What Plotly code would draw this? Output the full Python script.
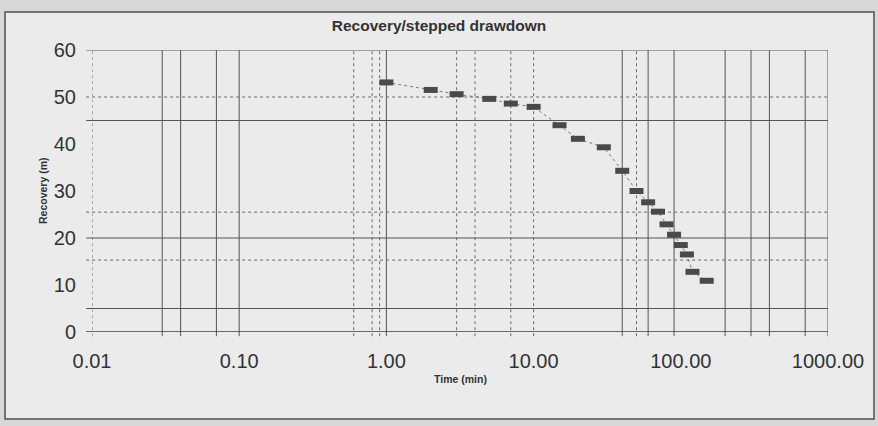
import plotly.graph_objects as go

# ---- data ----
time_min = [1, 2, 3, 5, 7, 10, 15, 20, 30, 40, 50, 60, 70, 80, 90, 100, 110, 120, 150]
recovery_m = [53.1, 51.5, 50.6, 49.6, 48.6, 47.9, 44.0, 41.1, 39.3, 34.3, 30.0, 27.6,
              25.6, 22.9, 20.7, 18.5, 16.5, 12.8, 10.9]

x_tick_vals = [0.01, 0.1, 1, 10, 100, 1000]
x_tick_text = ["0.01", "0.10", "1.00", "10.00", "100.00", "1000.00"]
y_tick_vals = [0, 10, 20, 30, 40, 50, 60]

# gridlines as they appear on the scanned chart
v_grid_solid = [0.03, 0.04, 0.07, 0.1, 1, 40, 60, 90, 200, 300, 400, 700, 1000]
v_grid_dashed = [0.01, 0.6, 0.8, 0.9, 3, 4, 7, 10, 50]
h_grid_solid = [0, 5, 20, 45, 60]
h_grid_dashed = [15.3, 25.5, 50]

FONT = "Liberation Sans, Arial, sans-serif"
W, H = 878, 426
L, R, T, B = 92, 50, 50, 94
PW, PH = W - L - R, H - T - B


def px_x(p):
    return (p - L) / PW


def px_y(p):
    return (H - B - p) / PH


fig = go.Figure()

fig.add_trace(go.Scatter(
    x=time_min, y=recovery_m, mode="lines+markers",
    line=dict(color="#7a7a7a", width=1, dash="dot"),
    marker=dict(symbol="line-ew", size=10,
                line=dict(color="#4a4a4a", width=6)),
    showlegend=False, hoverinfo="x+y",
))

shapes = []
# outer frame
shapes.append(dict(type="rect", xref="paper", yref="paper",
                   x0=px_x(5), x1=px_x(874), y0=px_y(419), y1=px_y(12),
                   line=dict(color="#505050", width=1.5), fillcolor="#ebebeb",
                   layer="below"))
for v in v_grid_dashed:
    shapes.append(dict(type="line", xref="x", yref="paper", x0=v, x1=v,
                       y0=-0.015, y1=1, layer="below",
                       line=dict(color="#6a6a6a", width=1, dash="dot")))
for v in v_grid_solid:
    shapes.append(dict(type="line", xref="x", yref="paper", x0=v, x1=v,
                       y0=-0.015, y1=1, layer="below",
                       line=dict(color="#555555", width=1)))
for v in h_grid_dashed:
    shapes.append(dict(type="line", xref="paper", yref="y", x0=-0.008, x1=1,
                       y0=v, y1=v, layer="below",
                       line=dict(color="#6a6a6a", width=1, dash="dot")))
for v in h_grid_solid:
    shapes.append(dict(type="line", xref="paper", yref="y", x0=-0.008, x1=1,
                       y0=v, y1=v, layer="below",
                       line=dict(color="#404040" if v == 0 else "#555555",
                                 width=1.5 if v == 0 else 1)))

annotations = [
    dict(text="Time (min)", xref="paper", yref="paper", x=0.5, y=px_y(379),
         xanchor="center", yanchor="middle", showarrow=False,
         font=dict(family=FONT, size=10.5, color="#333333", weight="bold")),
    dict(text="Recovery (m)", xref="paper", yref="paper", x=px_x(43), y=0.5,
         xanchor="center", yanchor="middle", showarrow=False, textangle=-90,
         font=dict(family=FONT, size=10.5, color="#333333", weight="bold")),
]

fig.update_layout(
    width=W, height=H,
    margin=dict(l=L, r=R, t=T, b=B, pad=0),
    paper_bgcolor="#d8d8d8",
    plot_bgcolor="rgba(0,0,0,0)",
    title=dict(text="Recovery/stepped drawdown", x=0.5, xanchor="center",
               xref="container", y=1 - 26 / H, yanchor="middle",
               font=dict(family=FONT, size=15.5, color="#333333", weight="bold")),
    shapes=shapes,
    annotations=annotations,
    xaxis=dict(type="log", range=[-2, 3], showgrid=False, zeroline=False,
               showline=False, tickvals=x_tick_vals, ticktext=x_tick_text,
               ticks="outside", ticklen=11, tickcolor="rgba(0,0,0,0)",
               tickfont=dict(family=FONT, size=20, color="#333333")),
    yaxis=dict(range=[0, 60], showgrid=False, zeroline=False, showline=False,
               tickvals=y_tick_vals, ticks="outside", ticklen=11,
               tickcolor="rgba(0,0,0,0)",
               tickfont=dict(family=FONT, size=20, color="#333333")),
)

fig.write_html("out.html")
